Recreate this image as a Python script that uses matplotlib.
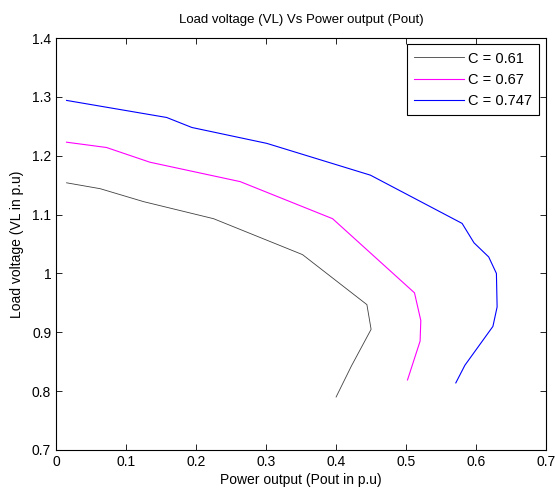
import matplotlib
matplotlib.use("Agg")
import matplotlib.pyplot as plt

plt.rcParams['font.family'] = ['Liberation Sans', 'DejaVu Sans']

# C = 0.61
p_061 = [0.015, 0.063, 0.125, 0.225, 0.352, 0.444, 0.450, 0.422, 0.400]
v_061 = [1.154, 1.144, 1.122, 1.093, 1.032, 0.947, 0.905, 0.843, 0.790]
# C = 0.67
p_067 = [0.015, 0.072, 0.134, 0.263, 0.395, 0.512, 0.521, 0.520, 0.502]
v_067 = [1.223, 1.214, 1.189, 1.156, 1.093, 0.967, 0.920, 0.885, 0.819]
# C = 0.747
p_0747 = [0.015, 0.158, 0.194, 0.301, 0.449, 0.580, 0.597, 0.618, 0.629,
          0.630, 0.624, 0.584, 0.571]
v_0747 = [1.294, 1.265, 1.248, 1.221, 1.167, 1.085, 1.052, 1.028, 1.000,
          0.943, 0.910, 0.844, 0.814]

fig = plt.figure(figsize=(5.55, 4.92), dpi=100)
ax = fig.add_axes([0.101, 0.0854, 0.883, 0.8373])

ax.plot(p_061, v_061, color='#404040', lw=0.6, label='C = 0.61')
ax.plot(p_067, v_067, color='#ff00ff', lw=0.8, label='C = 0.67')
ax.plot(p_0747, v_0747, color='#0000ff', lw=0.8, label='C = 0.747')

ax.set_xlim(0, 0.7)
ax.set_ylim(0.7, 1.4)
ax.set_xticks([0, 0.1, 0.2, 0.3, 0.4, 0.5, 0.6, 0.7])
ax.set_xticklabels(['0', '0.1', '0.2', '0.3', '0.4', '0.5', '0.6', '0.7'])
ax.set_yticks([0.7, 0.8, 0.9, 1.0, 1.1, 1.2, 1.3, 1.4])
ax.set_yticklabels(['0.7', '0.8', '0.9', '1', '1.1', '1.2', '1.3', '1.4'])
ax.tick_params(direction='in', top=True, right=True, length=4, width=0.6,
               labelsize=10)
for s in ax.spines.values():
    s.set_linewidth(0.8)

ax.set_xlabel('Power output (Pout in p.u)', fontsize=10, labelpad=3)
ax.set_ylabel('Load voltage (VL in p.u)', fontsize=10, labelpad=6)
ax.set_title('Load voltage (VL) Vs Power output (Pout)', fontsize=9.5, pad=11)

leg = ax.legend(loc='upper right', bbox_to_anchor=(0.986, 0.985),
                fontsize=10.5, fancybox=False, framealpha=1, edgecolor='black',
                handlelength=3.4, borderpad=0.5, labelspacing=0.5,
                handletextpad=0.3, borderaxespad=0)
leg.get_frame().set_linewidth(0.8)

plt.savefig('out.png', dpi=100)
